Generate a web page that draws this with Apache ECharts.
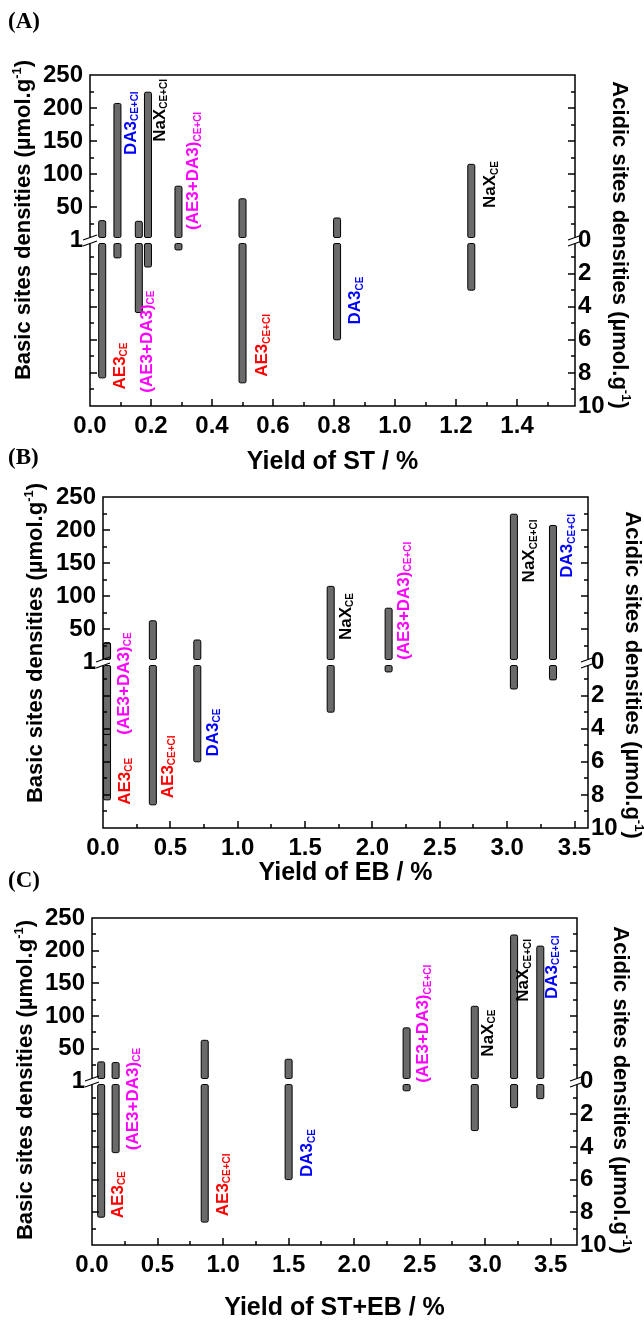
<!DOCTYPE html>
<html>
<head>
<meta charset="utf-8">
<script src="https://cdn.jsdelivr.net/npm/echarts@6/dist/echarts.min.js"></script>
<style>
html, body { margin: 0; padding: 0; background: #fff; }
#main { width: 644px; height: 1322px; }
</style>
</head>
<body>
<div id="main"></div>
<script>
// samples, in the same order in every array
var names = ['AE3', 'DA3', '(AE3+DA3)', 'NaX', '(AE3+DA3)', 'AE3', 'DA3', 'NaX'];
var subs = ['CE', 'CE+CI', 'CE', 'CE+CI', 'CE+CI', 'CE+CI', 'CE', 'CE'];
var basicSites = [30, 207, 29, 224, 82, 63, 34, 115];      // µmol/g, left axis
var acidicSites = [8.3, 1.05, 4.35, 1.6, 0.57, 8.6, 6.0, 3.0]; // µmol/g, right axis

var yieldST = [0.04, 0.09, 0.16, 0.19, 0.29, 0.50, 0.81, 1.25];
var yieldEB = [0.03, 3.34, 0.03, 3.05, 2.12, 0.37, 0.70, 1.69];
var yieldSTEB = [0.07, 3.42, 0.18, 3.22, 2.40, 0.86, 1.50, 2.92];

// where each sample name starts (x yield, y on the basic axis)
var labelST = [[0.098, -225], [0.134, 129], [0.187, -230], [0.229, 149], [0.34, 16], [0.566, -206], [0.871, -127], [1.313, 49]];
var labelEB = [[0.163, -215], [3.447, 128], [0.156, -109], [3.165, 121], [2.236, 4], [0.483, -205], [0.817, -142], [1.805, 34]];
var labelSTEB = [[0.198, -209], [3.51, 126], [0.312, -105], [3.29, 122], [2.53, -2], [0.998, -206], [1.645, -146], [3.02, 38]];

var colors = { 'AE3': '#ff0000', 'DA3': '#0000ff', '(AE3+DA3)': '#ff00ff', 'NaX': '#000000' };

var FONT = '"Liberation Sans", Arial, sans-serif';
var SERIF = '"Liberation Serif", "Times New Roman", serif';
var BAR_W = 7;
var GAP = 3;
var Y_MAX = 250, Y_INT = 50;

var panels = [
    { tag: '(A)', yields: yieldST, labels: labelST, xName: 'Yield of ST / %', xMax: 1.59, xInt: 0.2,
      left: 90, top: 75, nameGap: 44, tagY: 22, lName: [24, 220], rName: [619, 245] },
    { tag: '(B)', yields: yieldEB, labels: labelEB, xName: 'Yield of EB / %', xMax: 3.6, xInt: 0.5,
      left: 103, top: 497, nameGap: 33, tagY: 458, lName: [36, 643], rName: [632, 675] },
    { tag: '(C)', yields: yieldSTEB, labels: labelSTEB, xName: 'Yield of ST+EB / %', xMax: 3.7, xInt: 0.5,
      left: 92, top: 918, nameGap: 51, tagY: 881, lName: [26, 1080], rName: [620, 1090] }
];

function barStyle() { return { fill: '#6a6a6a', stroke: '#000', lineWidth: 1 }; }
function inkStyle() { return { stroke: '#000', lineWidth: 1.5, opacity: 1 }; }

function upperPart(params, api) {
    var x = api.value(0);
    var p0 = api.coord([x, 0]);
    var p1 = api.coord([x, api.value(1)]);
    return {
        type: 'rect',
        shape: { x: p0[0] - BAR_W / 2, y: p1[1], width: BAR_W, height: p0[1] - GAP - p1[1], r: 1.5 },
        style: barStyle()
    };
}

function lowerPart(params, api) {
    var x = api.value(0);
    var p0 = api.coord([x, 0]);
    var p1 = api.coord([x, api.value(1)]);
    return {
        type: 'rect',
        shape: { x: p0[0] - BAR_W / 2, y: p0[1] + GAP, width: BAR_W, height: p1[1] - p0[1] - GAP, r: 1.5 },
        style: barStyle()
    };
}

function sampleLabel(params, api) {
    var k = api.value(2);
    var c = colors[names[k]];
    var p = api.coord([api.value(0), api.value(1)]);
    return {
        type: 'text',
        x: p[0],
        y: p[1],
        rotation: Math.PI / 2,
        style: {
            text: '{m|' + names[k] + '}{s|' + subs[k] + '}',
            align: 'left',
            verticalAlign: 'middle',
            fill: c,
            rich: {
                m: { fontSize: 17, fontWeight: 'bold', fontFamily: FONT, lineHeight: 19, fill: c },
                s: { fontSize: 10, fontWeight: 'bold', fontFamily: FONT, lineHeight: 10, verticalAlign: 'bottom', fill: c }
            }
        }
    };
}

// plot frame, inward ticks (major + minor) and the "//" break on both vertical axes
function frameTicksBreaks(p) {
    return function (params, api) {
        var cs = params.coordSys;
        var left = cs.x, right = cs.x + cs.width, bottom = cs.y + cs.height;
        var y0 = api.coord([0, 0])[1];
        var kids = [{
            type: 'rect', shape: { x: cs.x, y: cs.y, width: cs.width, height: cs.height },
            style: { fill: 'none', stroke: '#000', lineWidth: 1.5 }
        }];
        // vertical axes: minor every half interval
        for (var k = -2 * Y_MAX / Y_INT + 1; k < 2 * Y_MAX / Y_INT; k++) {
            if (k === 0) continue;
            var y = Math.round(api.coord([0, k * Y_INT / 2])[1]);
            var len = k % 2 === 0 ? 7 : 4;
            kids.push({ type: 'line', z2: 10, shape: { x1: left, y1: y, x2: left + len, y2: y }, style: inkStyle() });
            kids.push({ type: 'line', z2: 10, shape: { x1: right, y1: y, x2: right - len, y2: y }, style: inkStyle() });
        }
        // horizontal axis
        for (var j = 1; j * p.xInt / 2 < p.xMax - 1e-9; j++) {
            var x = Math.round(api.coord([j * p.xInt / 2, 0])[0]);
            var l2 = j % 2 === 0 ? 7 : 4;
            kids.push({ type: 'line', z2: 10, shape: { x1: x, y1: bottom, x2: x, y2: bottom - l2 }, style: inkStyle() });
        }
        [left, right].forEach(function (ax) {
            kids.push({ type: 'rect', z2: 11, shape: { x: ax - 2, y: y0 - 3, width: 4, height: 6 }, style: { fill: '#fff' } });
            kids.push({ type: 'line', z2: 12, shape: { x1: ax - 7, y1: y0 - 0.5, x2: ax + 7, y2: y0 - 5.5 }, style: { stroke: '#000', lineWidth: 1.2 } });
            kids.push({ type: 'line', z2: 12, shape: { x1: ax - 7, y1: y0 + 5.5, x2: ax + 7, y2: y0 + 0.5 }, style: { stroke: '#000', lineWidth: 1.2 } });
        });
        return { type: 'group', children: kids };
    };
}

function axisLabel(margin, fmt) {
    return { show: true, margin: margin, formatter: fmt, fontSize: 24, fontWeight: 'bold', fontFamily: FONT, color: '#000' };
}

var grids = [], xAxes = [], yAxes = [], series = [], graphics = [];

panels.forEach(function (p, i) {
    grids.push({ left: p.left, top: p.top, width: 485, height: 331 });

    var xLabel = axisLabel(8, function (v) { return Number(v).toFixed(1); });
    xLabel.showMaxLabel = false;
    xAxes.push({
        gridIndex: i, type: 'value', min: 0, max: p.xMax, interval: p.xInt,
        name: p.xName, nameLocation: 'middle', nameGap: p.nameGap, nameMoveOverlap: false,
        nameTextStyle: { fontSize: 25, fontWeight: 'bold', fontFamily: FONT, color: '#000' },
        axisLine: { show: false, onZero: false },
        axisTick: { show: false },
        minorTick: { show: false },
        splitLine: { show: false },
        axisLabel: xLabel
    });

    yAxes.push({
        gridIndex: i, type: 'value', position: 'left', min: -Y_MAX, max: Y_MAX, interval: Y_INT,
        axisLine: { show: false, onZero: false },
        axisTick: { show: false },
        minorTick: { show: false },
        splitLine: { show: false },
        axisLabel: axisLabel(7, function (v) { return v > 0 ? String(v) : (v === 0 ? '1' : ''); })
    });
    yAxes.push({
        gridIndex: i, type: 'value', position: 'right', min: -10, max: 10, interval: 2, inverse: true,
        axisLine: { show: false, onZero: false },
        axisTick: { show: false },
        minorTick: { show: false },
        splitLine: { show: false },
        axisLabel: axisLabel(3, function (v) { return v >= 0 ? String(v) : ''; })
    });

    series.push({
        type: 'custom', xAxisIndex: i, yAxisIndex: 2 * i, clip: false, renderItem: upperPart,
        data: p.yields.map(function (x, k) { return [x, basicSites[k]]; })
    });
    series.push({
        type: 'custom', xAxisIndex: i, yAxisIndex: 2 * i + 1, clip: false, renderItem: lowerPart,
        data: p.yields.map(function (x, k) { return [x, acidicSites[k]]; })
    });
    series.push({
        type: 'custom', xAxisIndex: i, yAxisIndex: 2 * i, clip: false, renderItem: sampleLabel,
        data: p.labels.map(function (l, k) { return [l[0], l[1], k]; })
    });
    series.push({
        type: 'custom', xAxisIndex: i, yAxisIndex: 2 * i, clip: false, z: 5, renderItem: frameTicksBreaks(p),
        data: [[0, 0]]
    });

    graphics.push({
        type: 'text', x: 8, y: p.tagY,
        style: { text: p.tag, font: 'bold 23px ' + SERIF, fill: '#000', align: 'left', verticalAlign: 'middle', textAlign: 'left', textVerticalAlign: 'middle' }
    });
    [['Basic', p.lName, Math.PI / 2], ['Acidic', p.rName, -Math.PI / 2]].forEach(function (n) {
        graphics.push({
            type: 'text', x: n[1][0], y: n[1][1], rotation: n[2],
            style: {
                text: '{a|' + n[0] + ' sites densities (µmol.g}{b|-1}{a|)}',
                fill: '#000', align: 'center', verticalAlign: 'middle', textAlign: 'center', textVerticalAlign: 'middle',
                rich: {
                    a: { fontSize: 22, fontWeight: 'bold', fontFamily: FONT, lineHeight: 26, fill: '#000' },
                    b: { fontSize: 13, fontWeight: 'bold', fontFamily: FONT, lineHeight: 13, verticalAlign: 'top', fill: '#000' }
                }
            }
        });
    });
});

var myChart = echarts.init(document.getElementById('main'));
myChart.setOption({
    animation: false,
    backgroundColor: '#fff',
    grid: grids,
    xAxis: xAxes,
    yAxis: yAxes,
    series: series,
    graphic: graphics
});
window.onresize = function () { myChart.resize(); };
</script>
</body>
</html>
